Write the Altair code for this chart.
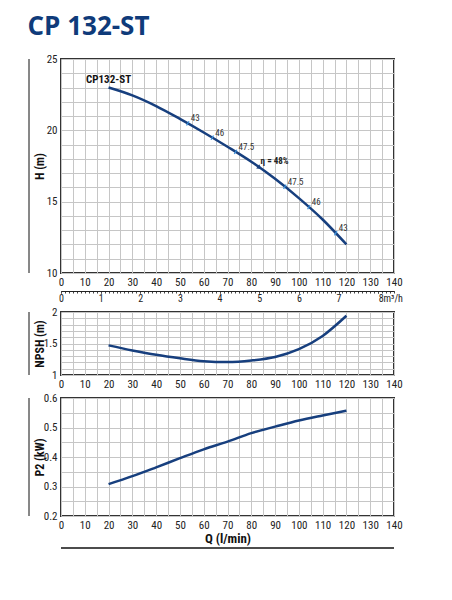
import altair as alt
import pandas as pd

# ---------------- data ----------------
Q = [20, 30, 40, 50, 60, 70, 80, 90, 100, 110, 120]
H = [23.0, 22.45, 21.7, 20.8, 19.85, 18.85, 17.8, 16.6, 15.25, 13.75, 12.0]
NPSH = [1.47, 1.39, 1.32, 1.265, 1.22, 1.206, 1.23, 1.285, 1.41, 1.62, 1.94]
P2 = [0.308, 0.335, 0.365, 0.396, 0.426, 0.452, 0.481, 0.503, 0.524, 0.541, 0.557]

EFF_Q = [53.3, 63.6, 73.4, 94.1, 104.2, 115.5]
EFF_H = [20.49, 19.49, 18.49, 16.05, 14.62, 12.79]
EFF_LABEL = ["43", "46", "47.5", "47.5", "46", "43"]
BEST_Q = [83.5]
BEST_H = [17.38]
BEST_LABEL = ["η = 48%"]
PUMP_Q = [20]
PUMP_H = [23.0]
PUMP_LABEL = ["CP132-ST"]

Q_GRID = list(range(0, 141, 5))
H_GRID = list(range(10, 26))
NPSH_GRID = [round(1 + i / 10, 2) for i in range(11)]
P2_GRID = [round(0.2 + i * 0.05, 3) for i in range(9)]
M3H_MAJOR = list(range(0, 9))
M3H_MINOR = [round(i / 10, 2) for i in range(0, 85)]

# ---------------- style ----------------
FONT = "Liberation Sans Narrow, Roboto Condensed, Roboto, sans-serif"
NAVY = "#173f7e"
W = 333
H_TOP, H_MID, H_BOT = 214, 63, 118
RULE_X = -32

df_h = pd.DataFrame({"Q": Q, "V": H})
df_n = pd.DataFrame({"Q": Q, "V": NPSH})
df_p = pd.DataFrame({"Q": Q, "V": P2})
df_eff = pd.DataFrame({"Q": EFF_Q, "V": EFF_H, "label": EFF_LABEL})
df_best = pd.DataFrame({"Q": BEST_Q, "V": BEST_H, "label": BEST_LABEL})
df_pump = pd.DataFrame({"Q": PUMP_Q, "V": PUMP_H, "label": PUMP_LABEL})
df_one = pd.DataFrame({"a": [0]})
df_m3 = pd.DataFrame({"m": M3H_MAJOR})

Q_SCALE = alt.Scale(domain=[0, 140], nice=False, zero=False)


def x_axis(title=None):
    kw = dict(
        values=Q_GRID,
        labelExpr="datum.value % 10 == 0 ? datum.label : ''",
        grid=True, ticks=False, domain=False, labelPadding=3,
        labelFlush=False, labelOverlap=False,
    )
    if title:
        kw.update(title=title, titleFontSize=13, titlePadding=2)
    else:
        kw.update(title=None)
    return alt.Axis(**kw)


def y_enc(domain, values, label_expr, title):
    return alt.Y("V:Q", scale=alt.Scale(domain=domain, nice=False, zero=False),
                 axis=alt.Axis(values=values, labelExpr=label_expr, grid=True,
                               ticks=False, domain=False, labelPadding=4,
                               labelFlush=False, labelOverlap=False,
                               title=title, titleX=-18, titleBaseline="alphabetic"))


def left_rule(h):
    return alt.Chart(df_one).mark_rule(color="#111", strokeWidth=1).encode(
        x=alt.value(RULE_X), y=alt.value(0), y2=alt.value(h))


# ---------------- top panel ----------------
XT = alt.X("Q:Q", scale=Q_SCALE, axis=x_axis())
XT_NOAX = alt.X("Q:Q", scale=Q_SCALE, axis=None)
YT = y_enc([10, 25], H_GRID, "datum.value % 5 == 0 ? datum.label : ''", "H (m)")

h_line = alt.Chart(df_h).mark_line(color=NAVY, strokeWidth=2.5,
                                   interpolate="monotone").encode(x=XT, y=YT)
eff_pts = alt.Chart(df_eff).mark_point(
    shape="M-0.35,0.6L0.35,-0.6", size=50, color="#3b8fd9", strokeWidth=1.3,
    filled=False, opacity=1).encode(x=XT_NOAX, y=YT)
eff_txt = alt.Chart(df_eff).mark_text(
    align="left", baseline="middle", dx=3, dy=-5, fontSize=9, color="#333",
    font=FONT).encode(x=XT_NOAX, y=YT, text="label:N")
best_pt = alt.Chart(df_best).mark_point(
    shape="triangle-right", angle=35, size=28, filled=True, color=NAVY,
    opacity=1).encode(x=XT_NOAX, y=YT)
best_txt = alt.Chart(df_best).mark_text(
    align="left", baseline="middle", dx=1, dy=-7, fontSize=9, fontWeight="bold",
    color="#222", font=FONT).encode(x=XT_NOAX, y=YT, text="label:N")
pump_txt = alt.Chart(df_pump).mark_text(
    align="center", baseline="middle", dy=-8, fontSize=11, fontWeight="bold",
    color="#111", font=FONT).encode(x=XT_NOAX, y=YT, text="label:N")

M3_SCALE = alt.Scale(domain=[0, 8.4], nice=False, zero=False)
m3_major = alt.Chart(df_m3).mark_point(opacity=0).encode(
    x=alt.X("m:Q", scale=M3_SCALE, axis=alt.Axis(
        orient="bottom", offset=18, values=M3H_MAJOR,
        labelExpr="datum.value == 8 ? '8m³/h' : datum.label",
        labelAlign={"condition": {"test": "datum.value == 8", "value": "left"},
                    "value": "center"},
        domain=True, domainColor="#222", domainWidth=1.2,
        ticks=True, tickSize=2, tickColor="#222", labelPadding=0,
        labelFontSize=10, grid=False, title=None, labelFlush=False,
        labelOverlap=False)),
    y=YT)
m3_minor = alt.Chart(pd.DataFrame({"m": M3H_MINOR})).mark_point(opacity=0).encode(
    x=alt.X("m:Q", scale=M3_SCALE, axis=alt.Axis(
        orient="bottom", offset=18, values=M3H_MINOR, labels=False,
        domain=True, domainColor="#222", domainWidth=1.2,
        ticks=True, tickSize=2, tickColor="#444", grid=False, title=None)),
    y=alt.value(0))

top = alt.layer(h_line, eff_pts, eff_txt, best_pt, best_txt, pump_txt,
                left_rule(H_TOP), m3_major, m3_minor).resolve_scale(
    x="independent").properties(width=W, height=H_TOP)

# ---------------- middle panel ----------------
XM = alt.X("Q:Q", scale=Q_SCALE, axis=x_axis())
YM = y_enc([1, 2], NPSH_GRID,
           "abs(datum.value*2 - round(datum.value*2)) < 0.001 ? format(datum.value, '~g') : ''",
           "NPSH (m)")
mid = alt.layer(
    alt.Chart(df_n).mark_line(color=NAVY, strokeWidth=2.5,
                              interpolate="monotone").encode(x=XM, y=YM),
    left_rule(H_MID),
).properties(width=W, height=H_MID)

# ---------------- bottom panel ----------------
XB = alt.X("Q:Q", scale=Q_SCALE, axis=x_axis("Q (l/min)"))
YB = y_enc([0.2, 0.6], P2_GRID,
           "abs(datum.value*10 - round(datum.value*10)) < 0.001 ? format(datum.value, '.1f') : ''",
           "P2 (kW)")
bot = alt.layer(
    alt.Chart(df_p).mark_line(color=NAVY, strokeWidth=2.5,
                              interpolate="monotone").encode(x=XB, y=YB),
    left_rule(H_BOT),
    alt.Chart(df_one).mark_rule(color="#111", strokeWidth=1.3).encode(
        x=alt.value(0), x2=alt.value(W), y=alt.value(150)),
).properties(width=W, height=H_BOT)

chart = alt.vconcat(
    top, mid, bot, spacing=1,
    title=alt.TitleParams("CP 132-ST", anchor="start", font="Open Sans",
                          fontSize=26, fontWeight="bold", color="#0f3b7a",
                          offset=12),
).properties(
    padding={"left": 19, "top": 6, "right": 5, "bottom": 5},
    background="white",
).configure_view(
    stroke="#333", strokeWidth=2
).configure_axis(
    labelFont=FONT, labelFontSize=11, labelColor="#222",
    titleFont=FONT, titleFontSize=12, titleFontWeight="bold", titleColor="#111",
    gridColor="#c6c6c6", gridWidth=1,
)

chart.save("out.html", embed_options={"renderer": "svg", "actions": False})
